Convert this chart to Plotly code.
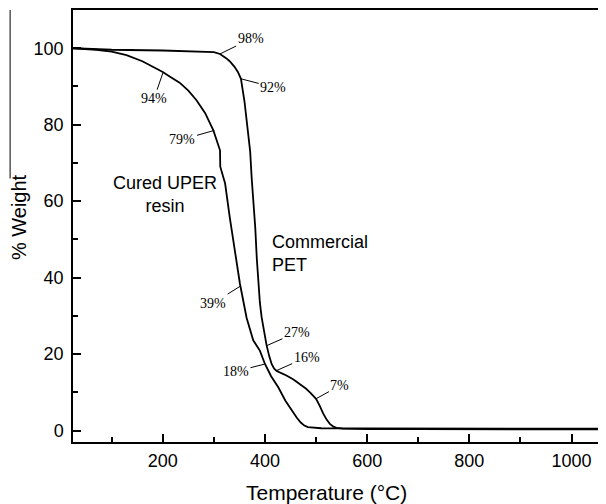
import plotly.graph_objects as go

# ---- data ----
pet_temp = [24, 100, 200, 280, 300, 312, 318, 324, 331, 340, 347, 353, 360, 367, 371, 374, 378,
            381, 384, 387, 390, 393.5, 397, 403, 408, 413, 418, 423, 432, 442, 455, 468, 480,
            488, 500, 507, 514, 521, 527, 534, 540, 552, 566, 600, 700, 800, 900, 1000, 1067]
pet_weight = [100, 99.6, 99.4, 99.2, 99.0, 98.5, 98.0, 97.4, 96.6, 95.2, 93.8, 92.0, 86.0, 78.5,
              73.0, 66.0, 59.0, 53.0, 45.0, 38.4, 33.5, 29.6, 26.5, 22.4, 19.6, 17.4, 16.2, 15.6,
              15.0, 14.4, 13.4, 12.2, 11.0, 10.0, 8.3, 6.5, 4.4, 2.8, 1.75, 1.0, 0.7, 0.5, 0.42,
              0.38, 0.35, 0.33, 0.32, 0.3, 0.3]

uper_temp = [24, 45, 70, 100, 129, 160, 194, 200, 215, 233, 250, 266, 283, 299, 304, 308, 312,
             312.5, 316, 322, 331, 341, 351, 364, 377, 390, 400, 412, 426, 440, 452, 462, 470,
             477, 484, 495, 510, 600, 700, 800, 900, 1000, 1067]
uper_weight = [100, 99.9, 99.6, 99.1, 98.2, 96.6, 94.3, 93.8, 92.5, 91.0, 88.9, 86.4, 83.0, 78.5,
               76.5, 74.6, 73.3, 69.0, 67.2, 64.6, 55.8, 47.1, 38.4, 29.5, 23.6, 20.9, 17.4, 14.2,
               11.3, 7.8, 5.2, 3.4, 2.1, 1.3, 0.9, 0.7, 0.6, 0.55, 0.55, 0.5, 0.5, 0.5, 0.5]

# leader labels: (text, temperature, weight, text offset x px, text offset y px)
label_text = ["98%", "92%", "94%", "79%", "39%", "27%", "16%", "18%", "7%"]
label_temp = [311.9, 353, 200.4, 300.8, 351, 403.3, 422.9, 400, 499.8]
label_weight = [98.5, 92.0, 93.6, 78.5, 37.7, 22.2, 15.7, 17.4, 8.3]
label_dx = [30.7, 32.3, -9, -31.8, -26.7, 30.3, 30, -29, 24]
label_dy = [-15, 8.4, 26, 9, 16.7, -13.3, -13.3, 7.4, -13.3]

x_ticks = [200, 400, 600, 800, 1000]
y_ticks = [0, 20, 40, 60, 80, 100]

SANS = "Liberation Sans, Arial, sans-serif"
SERIF = "Liberation Serif, Times New Roman, serif"

fig = go.Figure()
fig.add_trace(go.Scatter(x=pet_temp, y=pet_weight, mode="lines", name="Commercial PET",
                         line=dict(color="black", width=1.8)))
fig.add_trace(go.Scatter(x=uper_temp, y=uper_weight, mode="lines", name="Cured UPER resin",
                         line=dict(color="black", width=1.8)))

annotations = []
for t, x, y, dx, dy in zip(label_text, label_temp, label_weight, label_dx, label_dy):
    annotations.append(dict(x=x, y=y, xref="x", yref="y", text=t, showarrow=True,
                            arrowhead=0, arrowwidth=1, arrowcolor="black", standoff=0,
                            ax=dx, ay=dy, borderpad=1,
                            font=dict(family=SERIF, size=14, color="black")))

annotations.append(dict(x=204.3, y=61.7, xref="x", yref="y", text="Cured UPER<br>resin",
                        showarrow=False, xanchor="center", yanchor="middle", align="center",
                        font=dict(family=SANS, size=18, color="black")))
annotations.append(dict(x=409.8, y=46.4, xref="x", yref="y", text="Commercial<br>PET",
                        showarrow=False, xanchor="left", yanchor="middle", align="left",
                        font=dict(family=SANS, size=18, color="black")))
# axis titles
annotations.append(dict(x=0.4756, y=-0.117, xref="paper", yref="paper", text="Temperature (°C)",
                        showarrow=False, xanchor="center", yanchor="middle",
                        font=dict(family=SANS, size=21, color="black")))
annotations.append(dict(x=-0.101, y=0.521, xref="paper", yref="paper", text="% Weight",
                        showarrow=False, xanchor="center", yanchor="middle", textangle=-90,
                        font=dict(family=SANS, size=20, color="black")))

fig.update_layout(
    width=598, height=496,
    margin=dict(l=65, r=0, t=2, b=62),
    paper_bgcolor="white", plot_bgcolor="white",
    showlegend=False,
    annotations=annotations,
    shapes=[dict(type="line", xref="paper", yref="paper", x0=-0.118, x1=-0.118, y0=1.0, y1=0.61,
                 line=dict(color="black", width=1))],
    xaxis=dict(range=[24.3, 1067.4], tickvals=x_ticks, ticks="inside", ticklen=8, tickwidth=1.5,
               tickcolor="black", showline=True, linecolor="black", linewidth=1.5, mirror=True,
               showgrid=False, zeroline=False, ticklabelstandoff=2,
               tickfont=dict(family=SANS, size=18, color="black"),
               minor=dict(dtick=100, tick0=0, ticks="inside", ticklen=5, tickwidth=1.5,
                          tickcolor="black", showgrid=False)),
    yaxis=dict(range=[-3, 110], tickvals=y_ticks, ticks="inside", ticklen=8, tickwidth=1.5,
               tickcolor="black", showline=True, linecolor="black", linewidth=1.5, mirror=False,
               showgrid=False, zeroline=False, ticklabelstandoff=4,
               tickfont=dict(family=SANS, size=18, color="black"),
               minor=dict(dtick=10, tick0=0, ticks="inside", ticklen=5, tickwidth=1.5,
                          tickcolor="black", showgrid=False)),
)

fig.write_html("out.html")
